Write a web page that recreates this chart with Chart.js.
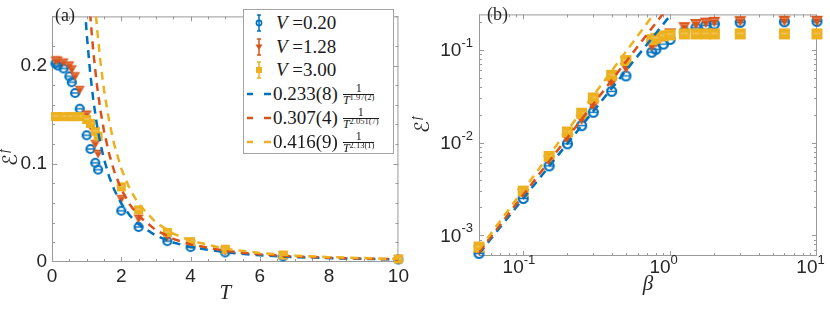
<!DOCTYPE html>
<html>
<head>
<meta charset="utf-8">
<script src="https://cdn.jsdelivr.net/npm/chart.js@4.4.1/dist/chart.umd.min.js"></script>
<style>
  html, body { margin: 0; padding: 0; background: #fff; }
  #wrap { position: relative; width: 830px; height: 309px; overflow: hidden; }
  #chartA { position: absolute; left: 0; top: 0; }
  #chartB { position: absolute; left: 412px; top: 0; }
  #legend { position: absolute; left: 243px; top: 9px; width: 151px; height: 145px; box-sizing: border-box;
            border: 1px solid #a3a3a3; background: #fff; font-family: "Liberation Serif", serif; color: #1a1a1a; }
  .row { position: absolute; left: 0; height: 24px; width: 100%; }
  .row svg { position: absolute; left: 0; top: 2px; }
  .lab { position: absolute; top: 0; font-size: 19px; line-height: 24px; white-space: nowrap; }
  .frac { display: inline-flex; flex-direction: column; align-items: center; vertical-align: middle;
          font-size: 12px; line-height: 11px; margin-left: 5px; position: relative; top: -1px; }
  .frac .num { border-bottom: 1px solid #1a1a1a; width: 100%; text-align: center; }
  .frac sup { font-size: 8.5px; vertical-align: 4px; line-height: 0; }
</style>
</head>
<body>
<div id="wrap">
  <canvas id="chartA" width="412" height="309"></canvas>
  <canvas id="chartB" width="418" height="309"></canvas>
  <div id="legend"></div>
</div>
<script>
// ---- data ----
var vLabels = ['0.20', '1.28', '3.00'];
var colors = ['#0072BD', '#D95319', '#EDB120'];

// inverse temperatures (panel b) and the matching temperatures (panel a)
var betaVals = [0.05, 0.1, 0.15, 0.2, 0.25, 0.3, 0.4, 0.5, 0.75, 0.8, 0.9, 1.0, 1.25, 1.5, 1.75, 2, 3, 6, 10];
var tempVals = [20, 10, 6.67, 5, 4, 3.33, 2.5, 2, 1.33, 1.25, 1.11, 1.0, 0.8, 0.667, 0.571, 0.5, 0.333, 0.167, 0.1];

// E^f for each V
var epsV020 = [6.4e-4, 2.5e-3, 5.6e-3, 9.7e-3, 0.0152, 0.0212, 0.0356, 0.0522, 0.094, 0.101, 0.115, 0.129, 0.156, 0.172, 0.183, 0.189, 0.197, 0.200, 0.202];
var epsV128 = [6.9e-4, 2.8e-3, 6.4e-3, 0.0110, 0.0177, 0.0250, 0.0440, 0.0640, 0.110, 0.120, 0.138, 0.150, 0.175, 0.189, 0.196, 0.200, 0.203, 0.205, 0.205];
var epsV300 = [7.5e-4, 3.0e-3, 7.1e-3, 0.0130, 0.0207, 0.0302, 0.0530, 0.0765, 0.128, 0.133, 0.141, 0.145, 0.148, 0.148, 0.148, 0.148, 0.148, 0.148, 0.148];

// dashed power-law fits, sampled along the curves of panel (a)
var fitTemps = [0.9, 1.0, 1.1, 1.2, 1.3, 1.4, 1.5, 1.65, 1.8, 2, 2.25, 2.5, 3, 3.5, 4, 5, 6, 7, 8, 10];
var fitA020 = [0.2868, 0.233, 0.1931, 0.1627, 0.1390, 0.1201, 0.1048, 0.0869, 0.0732, 0.0595, 0.0472, 0.0383, 0.0268, 0.0198, 0.0152, 0.00979, 0.00683, 0.00504, 0.00388, 0.00250];
var fitA128 = [0.3811, 0.307, 0.2525, 0.2112, 0.1793, 0.1540, 0.1336, 0.1099, 0.0919, 0.0741, 0.0582, 0.0469, 0.0323, 0.0235, 0.0179, 0.01131, 0.00778, 0.00567, 0.00431, 0.00273];
var fitA300 = [0.5207, 0.416, 0.3396, 0.2821, 0.2379, 0.2032, 0.1754, 0.1432, 0.1190, 0.0950, 0.0739, 0.0591, 0.0401, 0.0289, 0.0217, 0.0135, 0.00915, 0.00659, 0.00496, 0.00308];

// the same fits in panel (b): straight lines on log-log axes
var fitBetas = [0.05, 1.1];
var fitB020 = [6.37e-4, 0.281];
var fitB128 = [6.59e-4, 0.373];
var fitB300 = [7.04e-4, 0.510];

var fitAmps = ['0.233(8)', '0.307(4)', '0.416(9)'];
var fitExps = ['1.97(2)', '2.051(7)', '2.13(1)'];

// ---- styling ----
var FRAME = '#9a9a9a';
var TXT = '#262626';
var TICK_FONT = { family: '"Liberation Sans", Arial, sans-serif', size: 19 };

function pts(xs, ys, xmax) {
    var out = [];
    for (var i = 0; i < xs.length; i++) {
        if (xs[i] <= xmax) out.push({ x: xs[i], y: ys[i] });
    }
    return out;
}

// small canvases used as point styles (marker + squeezed error-bar caps)
function marker(kind, color, size) {
    var c = document.createElement('canvas');
    var s = size + 4;
    c.width = s; c.height = s;
    var g = c.getContext('2d');
    var m = s / 2;
    g.strokeStyle = color; g.fillStyle = color;
    if (kind === 'circle') {
        g.lineWidth = 2.2;
        g.beginPath(); g.arc(m, m, size / 2 - 1, 0, 2 * Math.PI); g.stroke();
        g.lineWidth = 1.4;
        g.beginPath(); g.moveTo(m - size / 2 + 2, m); g.lineTo(m + size / 2 - 2, m); g.stroke();
    } else if (kind === 'triangle') {
        g.beginPath();
        g.moveTo(m - size / 2, m - size * 0.42);
        g.lineTo(m + size / 2, m - size * 0.42);
        g.lineTo(m, m + size * 0.45);
        g.closePath(); g.fill();
        g.strokeStyle = 'rgba(255,255,255,0.35)'; g.lineWidth = 1;
        g.beginPath(); g.moveTo(m - size * 0.3, m - size * 0.22); g.lineTo(m + size * 0.3, m - size * 0.22); g.stroke();
    } else {
        g.fillRect(m - size / 2, m - size / 2, size, size);
        g.strokeStyle = 'rgba(255,255,255,0.4)'; g.lineWidth = 1;
        g.beginPath(); g.moveTo(m - size * 0.3, m - 0.5); g.lineTo(m + size * 0.3, m - 0.5); g.stroke();
    }
    return c;
}

function logTicks(scale) {
    var out = [];
    var e0 = Math.floor(Math.log10(scale.min)), e1 = Math.ceil(Math.log10(scale.max));
    for (var e = e0; e <= e1; e++) {
        for (var k = 1; k <= 9; k++) {
            var v = k * Math.pow(10, e);
            if (v >= scale.min && v <= scale.max * 1.0001) out.push({ value: v, major: k === 1 });
        }
    }
    scale.ticks = out;
}

function drawPow(ctx, x, y, exp, align) {
    var base = '10', sup = String(exp);
    ctx.font = '19px "Liberation Sans", Arial, sans-serif';
    var wb = ctx.measureText(base).width;
    ctx.font = '13px "Liberation Sans", Arial, sans-serif';
    var ws = ctx.measureText(sup).width;
    var x0 = align === 'right' ? x - wb - ws : x - wb;
    ctx.textBaseline = 'middle'; ctx.textAlign = 'left';
    ctx.font = '19px "Liberation Sans", Arial, sans-serif';
    ctx.fillText(base, x0, y);
    ctx.font = '13px "Liberation Sans", Arial, sans-serif';
    ctx.fillText(sup, x0 + wb, y - 8);
}

// frame with inward ticks on all four sides, panel tag, y title
var axesBox = {
    id: 'axesBox',
    beforeDatasetsDraw: function (chart, args, opts) {
        var ctx = chart.ctx, a = chart.chartArea;
        var xs = chart.scales.x, ys = chart.scales.y;
        ctx.save();
        ctx.strokeStyle = FRAME;
        ctx.lineWidth = 1;
        ctx.strokeRect(a.left + 0.5, a.top + 0.5, a.right - a.left - 1, a.bottom - a.top - 1);
        ctx.beginPath();
        xs.ticks.forEach(function (t) {
            var p = Math.round(xs.getPixelForValue(t.value)) + 0.5;
            if (p < a.left || p > a.right) return;
            var len = (t.major || t.label) ? 5 : 3;
            ctx.moveTo(p, a.bottom); ctx.lineTo(p, a.bottom - len);
            ctx.moveTo(p, a.top); ctx.lineTo(p, a.top + len);
        });
        ys.ticks.forEach(function (t) {
            var p = Math.round(ys.getPixelForValue(t.value)) + 0.5;
            if (p < a.top || p > a.bottom) return;
            var len = (t.major || t.label) ? 5 : 3;
            ctx.moveTo(a.left, p); ctx.lineTo(a.left + len, p);
            ctx.moveTo(a.right, p); ctx.lineTo(a.right - len, p);
        });
        ctx.stroke();

        if (opts.logLabels) {
            ctx.fillStyle = TXT;
            ys.ticks.forEach(function (t) {
                if (!t.major) return;
                drawPow(ctx, a.left - 6, ys.getPixelForValue(t.value) + 1.5, Math.round(Math.log10(t.value)), 'right');
            });
            xs.ticks.forEach(function (t) {
                if (!t.major) return;
                drawPow(ctx, xs.getPixelForValue(t.value) + 0.5, a.bottom + 12, Math.round(Math.log10(t.value)), 'base');
            });
        }

        // y title: calligraphic E with superscript f
        ctx.save();
        ctx.translate(opts.titleX, opts.titleY);
        ctx.rotate(-Math.PI / 2);
        ctx.fillStyle = TXT;
        ctx.textBaseline = 'alphabetic';
        ctx.textAlign = 'left';
        ctx.font = '20px "DejaVu Serif", "DejaVu Sans", serif';
        var w1 = ctx.measureText('\u2130').width;
        ctx.font = 'italic 14px "Liberation Serif", serif';
        var w2 = ctx.measureText('f').width;
        var x0 = -(w1 + w2) / 2;
        ctx.font = '20px "DejaVu Serif", "DejaVu Sans", serif';
        ctx.fillText('\u2130', x0, 7);
        ctx.font = 'italic 14px "Liberation Serif", serif';
        ctx.fillText('f', x0 + w1 + 1, -2);
        ctx.restore();
        ctx.restore();
    },
    afterDraw: function (chart, args, opts) {
        var ctx = chart.ctx;
        ctx.save();
        ctx.fillStyle = TXT;
        ctx.font = '18px "Liberation Serif", serif';
        ctx.textBaseline = 'alphabetic';
        ctx.textAlign = 'left';
        ctx.fillText(opts.tag, opts.tagX, opts.tagY);
        ctx.restore();
    }
};

function markerSets(xs, xmax, sizes) {
    var series = [epsV020, epsV128, epsV300];
    var kinds = ['circle', 'triangle', 'square'];
    var out = [];
    for (var i = 0; i < 3; i++) {
        out.push({
            label: 'V =' + vLabels[i],
            data: pts(xs, series[i], xmax),
            pointStyle: marker(kinds[i], colors[i], sizes[i]),
            pointRadius: 5,
            borderColor: colors[i],
            backgroundColor: colors[i],
            clip: false,
            order: 5 - i
        });
    }
    return out;
}

function fitSets(xs, fits) {
    var out = [];
    for (var i = 0; i < 3; i++) {
        out.push({
            label: 'fit ' + fitAmps[i],
            data: pts(xs, fits[i], Infinity),
            showLine: true,
            pointRadius: 0,
            borderColor: colors[i],
            borderWidth: 2.5,
            borderDash: [8, 6],
            tension: 0,
            order: 2 - i
        });
    }
    return out;
}

var titleFont = { family: '"Liberation Serif", serif', size: 21, style: 'italic' };

// ---- panel (a): linear axes in T ----
new Chart(document.getElementById('chartA'), {
    type: 'scatter',
    data: {
        datasets: markerSets(tempVals, 10, [10, 10, 9]).concat(fitSets(fitTemps, [fitA020, fitA128, fitA300]))
    },
    options: {
        responsive: false,
        animation: false,
        layout: { padding: { top: 3, right: 12, left: 0, bottom: 0 } },
        plugins: {
            legend: { display: false },
            tooltip: { enabled: false },
            axesBox: { tag: '(a)', tagX: 55, tagY: 21, titleX: 10, titleY: 158 }
        },
        scales: {
            x: {
                type: 'linear', min: 0, max: 10,
                grid: { display: false, drawTicks: false },
                border: { display: false },
                ticks: {
                    stepSize: 0.5, autoSkip: false, maxRotation: 0, maxTicksLimit: 100,
                    padding: 3, color: TXT, font: TICK_FONT,
                    callback: function (v) {
                        return Math.abs(v / 2 - Math.round(v / 2)) < 1e-6 ? String(Math.round(v)) : '';
                    }
                },
                title: { display: true, text: 'T', color: TXT, font: titleFont, padding: { top: 0, bottom: 3 } },
                afterFit: function (s) { s.height = 47; }
            },
            y: {
                type: 'linear', min: 0, max: 0.25,
                grid: { display: false, drawTicks: false },
                border: { display: false },
                ticks: {
                    stepSize: 0.02, autoSkip: false, maxTicksLimit: 100,
                    padding: 5, color: TXT, font: TICK_FONT,
                    callback: function (v) {
                        if (Math.abs(v * 10 - Math.round(v * 10)) > 1e-6) return '';
                        return v === 0 ? '0' : v.toFixed(1);
                    }
                },
                afterFit: function (s) { s.width = 52; }
            }
        }
    },
    plugins: [axesBox]
});

// ---- panel (b): log-log axes in beta ----
new Chart(document.getElementById('chartB'), {
    type: 'scatter',
    data: {
        datasets: markerSets(betaVals, 10, [11, 12, 11]).concat(fitSets(fitBetas, [fitB020, fitB128, fitB300]))
    },
    options: {
        responsive: false,
        animation: false,
        layout: { padding: { top: 3, right: 13, left: 0, bottom: 0 } },
        plugins: {
            legend: { display: false },
            tooltip: { enabled: false },
            axesBox: { tag: '(b)', tagX: 75, tagY: 20, titleX: 10, titleY: 125, logLabels: true }
        },
        scales: {
            x: {
                type: 'logarithmic', min: 0.05, max: 10,
                grid: { display: false, drawTicks: false },
                border: { display: false },
                afterBuildTicks: logTicks,
                ticks: { autoSkip: false, maxRotation: 0, font: TICK_FONT, callback: function () { return ''; } },
                title: { display: true, text: '\u03b2', color: TXT, font: titleFont, padding: { top: 0, bottom: 12 } },
                afterFit: function (s) { s.height = 53; }
            },
            y: {
                type: 'logarithmic', min: 6.1e-4, max: 0.24,
                grid: { display: false, drawTicks: false },
                border: { display: false },
                afterBuildTicks: logTicks,
                ticks: { autoSkip: false, font: TICK_FONT, callback: function () { return ''; } },
                afterFit: function (s) { s.width = 67; }
            }
        }
    },
    plugins: [axesBox]
});

// ---- legend of panel (a), built from the same label arrays ----
(function () {
    var box = document.getElementById('legend');
    var html = '';
    var shapes = [
        '<circle cx="15" cy="10" r="2.6" fill="none" stroke="C" stroke-width="1.6"/>',
        '<path d="M11.5 7.5 L18.5 7.5 L15 13 Z" fill="C"/>',
        '<rect x="12" y="7" width="6" height="6" fill="C"/>'
    ];
    for (var i = 0; i < 3; i++) {
        var c = colors[i];
        html += '<div class="row" style="top:' + (1 + i * 23.5) + 'px">' +
            '<svg width="30" height="20"><path d="M15 2 V18 M13 2 H17 M13 18 H17" stroke="' + c + '" stroke-width="1.5"/>' +
            shapes[i].replace('C', c) + '</svg>' +
            '<span class="lab" style="left:32px"><i>V</i> =' + vLabels[i] + '</span></div>';
    }
    for (var j = 0; j < 3; j++) {
        var cc = colors[j];
        html += '<div class="row" style="top:' + (72 + j * 24) + 'px">' +
            '<svg width="30" height="20"><path d="M3 10 H9 M20 10 H27" stroke="' + cc + '" stroke-width="2.5"/></svg>' +
            '<span class="lab" style="left:29px">' + fitAmps[j] +
            '<span class="frac"><span class="num">1</span><span class="den"><i>T</i><sup>' + fitExps[j] + '</sup></span></span>' +
            '</span></div>';
    }
    box.innerHTML = html;
})();
</script>
</body>
</html>
